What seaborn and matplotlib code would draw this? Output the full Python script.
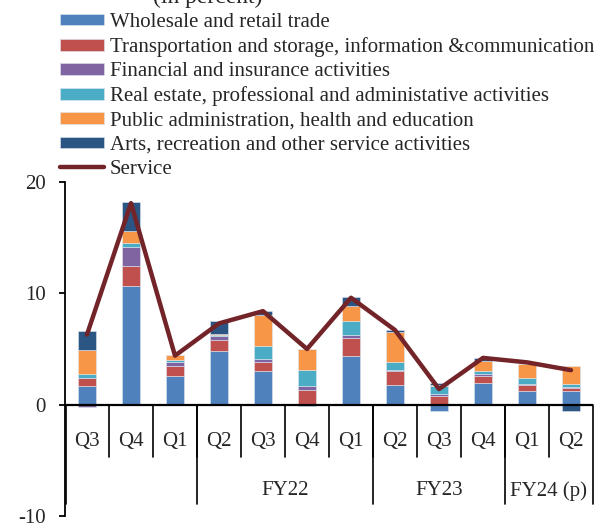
import numpy as np
import matplotlib
matplotlib.use('Agg')
import matplotlib.pyplot as plt
import seaborn as sns

# Quarterly contributions to service sector growth (in percent)
quarters = ['Q3', 'Q4', 'Q1', 'Q2', 'Q3', 'Q4', 'Q1', 'Q2', 'Q3', 'Q4', 'Q1', 'Q2']
year_labels = ['', 'FY22', 'FY23', 'FY24 (p)']
year_sizes = [3, 4, 3, 2]

wholesale = [1.66, 10.65, 2.6, 4.8, 2.99, -0.15, 4.37, 1.81, -0.6, 1.96, 1.27, 1.21]
transport = [0.75, 1.84, 0.9, 1.0, 0.81, 1.33, 1.66, 1.21, 0.81, 0.63, 0.51, 0.3]
financial = [-0.25, 1.69, 0.36, 0.4, 0.33, 0.33, 0.27, 0.1, 0.12, 0.12, 0.05, 0.12]
real_estate = [0.3, 0.3, 0.18, 0.1, 1.15, 1.48, 1.18, 0.75, 0.72, 0.27, 0.54, 0.27]
public = [2.2, 1.09, 0.4, 0.05, 2.78, 1.9, 1.39, 2.65, 0.12, 0.94, 1.27, 1.57]
arts = [1.7, 2.62, 0.05, 1.15, 0.33, 0.0, 0.84, 0.2, 0.15, 0.24, 0.0, -0.54]
service = [6.3, 18.1, 4.4, 7.3, 8.4, 5.0, 9.6, 6.7, 1.4, 4.2, 3.8, 3.1]

series_names = ['Wholesale and retail trade',
                'Transportation and storage, information &communication',
                'Financial and insurance activities',
                'Real estate, professional and administative activities',
                'Public administration, health and education',
                'Arts, recreation and other service activities']
series = [wholesale, transport, financial, real_estate, public, arts]
colors = ['#4F81BD', '#C0504D', '#8064A2', '#4BACC6', '#F79646', '#2B5582']
line_color = '#722428'

sns.set_style('white')
plt.rcParams['font.family'] = ['Liberation Serif', 'DejaVu Serif']
plt.rcParams['axes.unicode_minus'] = False
fs = 15

fig = plt.figure(figsize=(5.95, 5.23), dpi=100)
ax = fig.add_axes([65 / 595, 7 / 523, 528 / 595, 334 / 523])

x = np.arange(len(quarters))
pos_bottom = np.zeros(len(x))
neg_bottom = np.zeros(len(x))
handles = []
for name, vals, col in zip(series_names, series, colors):
    vals = np.array(vals)
    bottom = np.where(vals >= 0, pos_bottom, neg_bottom)
    b = ax.bar(x, vals, width=0.4, bottom=bottom, color=col,
               edgecolor='#dfe6ef', linewidth=0.4, label=name, zorder=2)
    handles.append(b)
    pos_bottom += np.clip(vals, 0, None)
    neg_bottom += np.clip(vals, None, 0)

sns.lineplot(x=x, y=service, ax=ax, color=line_color, linewidth=3.2,
             solid_capstyle='round', label='Service', zorder=3, legend=False)

ax.set_xlim(-0.5, len(x) - 0.5)
ax.set_ylim(-10, 20)
ax.set_yticks([-10, 0, 10, 20])
ax.set_yticklabels(['-10', '0', '10', '20'], fontsize=fs)
ax.set_xticks([])
for s in ['top', 'right', 'bottom']:
    ax.spines[s].set_visible(False)
ax.spines['left'].set_linewidth(1.3)
ax.spines['left'].set_color('black')
ax.tick_params(axis='y', direction='out', length=4, width=1.3, color='black',
               pad=10, left=True)
ax.axhline(0, color='black', lw=1.6, zorder=4)

# multi-level category axis drawn below the zero line
for i, q in enumerate(quarters):
    ax.text(i, -3.3, q, ha='center', va='center', fontsize=fs)
for i in range(1, len(x)):
    ax.plot([i - 0.5, i - 0.5], [0, -4.7], color='black', lw=1.2,
            clip_on=False, zorder=4)
start = 0
edges = [0]
for size in year_sizes:
    start += size
    edges.append(start)
for e in edges:
    xe = e - 0.5 + (0.03 if e == 0 else 0)
    ax.plot([xe, xe], [0, -8.9], color='black', lw=1.2, clip_on=False, zorder=4)
for lab, a, b in zip(year_labels, edges[:-1], edges[1:]):
    ax.text((a + b - 1) / 2, -7.75, lab, ha='center', va='center', fontsize=fs)

# legend above the plot
line_handle = ax.get_lines()[0]
leg = fig.legend(handles + [line_handle], series_names + ['Service'],
                 loc='upper left', bbox_to_anchor=(60 / 595, 1 - 13 / 523),
                 frameon=False, fontsize=fs, handlelength=2.1, handleheight=0.48,
                 handletextpad=0.3, labelspacing=0.25, borderpad=0,
                 borderaxespad=0)

fig.text(208 / 595, 1 - 3 / 523, '(in percent)', ha='center', va='baseline',
         fontsize=17)

fig.savefig('out.png', dpi=100)
